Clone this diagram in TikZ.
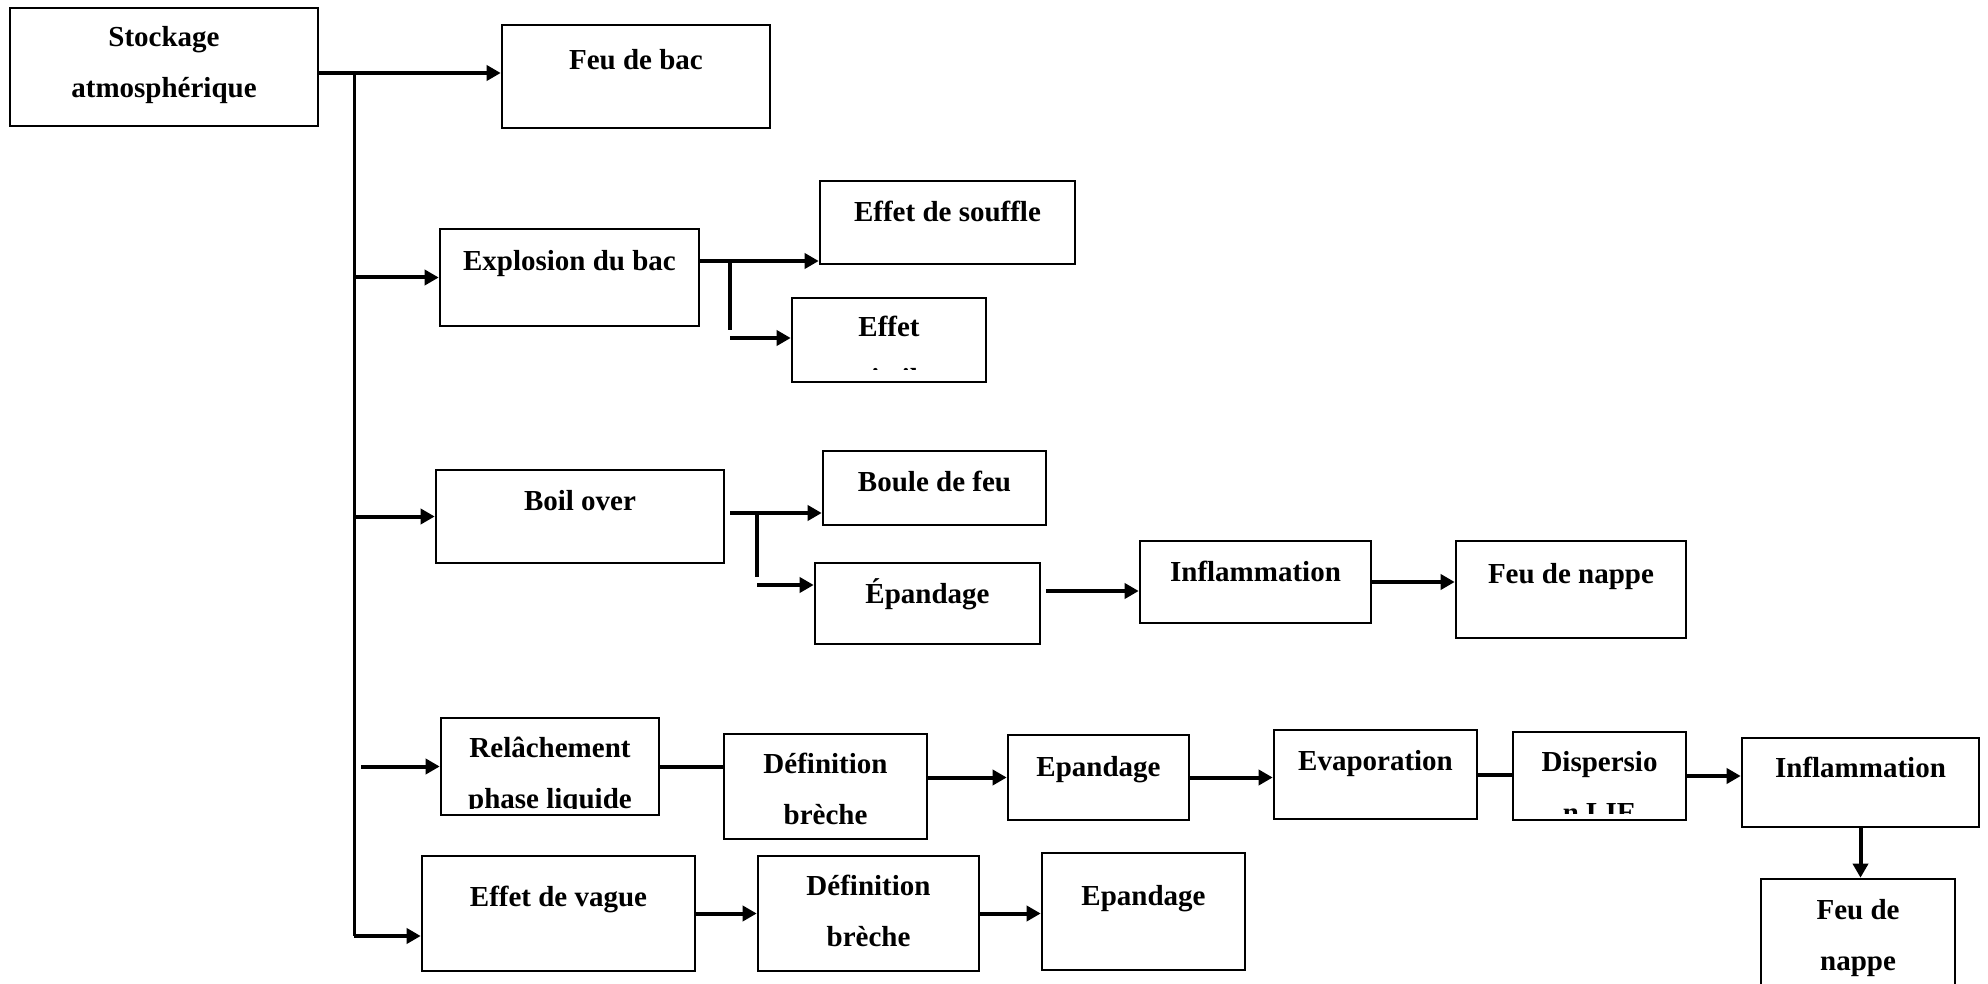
\documentclass[tikz,border=0pt]{standalone}
\usepackage{fontspec}
\setmainfont{Liberation Serif}
\usetikzlibrary{arrows.meta,fit}
\def\clipin{7}
\newcommand\mybox[8]{%
  \node[boxst, fit={(#2,#3) (#4,#5)}] (#1) {};
  \begin{scope}
    \clip (#2,#3) rectangle (#4,#5-\clipin);
    \node[txt, anchor=base] (#1-a) at ({(#2+#4)/2},#6) {#7};
    \node[txt, anchor=base] (#1-b) at ({(#2+#4)/2},#6+51) {#8};
  \end{scope}
}
\begin{document}
\begin{tikzpicture}[x=0.5pt,y=-0.5pt,
  boxst/.style={draw, line width=1.3pt, inner sep=0pt},
  txt/.style={font=\fontsize{14.5}{17}\selectfont\bfseries, inner sep=0pt},
  conn/.style={line width=2pt},
  trunkst/.style={line width=1.5pt},
  arr/.style={conn, -{Triangle[length=7pt,width=7.5pt]}}]
\path[use as bounding box, fill=white] (0,0) rectangle (1988,984);

\mybox{A}{10}{8}{318}{126}{47}{Stockage}{atmosphérique}
\mybox{B}{502}{25}{770}{128}{70}{Feu de bac}{}
\mybox{C}{440}{229}{699}{326}{271}{Explosion du bac}{}
\mybox{D}{820}{181}{1075}{264}{222}{Effet de souffle}{}
\def\clipin{12}
\mybox{E}{792}{298}{986}{382}{337}{Effet}{missile}
\def\clipin{7}
\mybox{F}{436}{470}{724}{563}{510}{Boil over}{}
\mybox{G}{823}{451}{1046}{525}{491}{Boule de feu}{}
\mybox{H}{815}{563}{1040}{644}{603}{Épandage}{}
\mybox{I}{1140}{541}{1371}{623}{581}{Inflammation}{}
\mybox{J}{1456}{541}{1686}{638}{583}{Feu de nappe}{}
\mybox{K}{441}{718}{659}{815}{757}{Relâchement}{phase liquide}
\mybox{L}{724}{734}{927}{839}{773}{Définition}{brèche}
\mybox{M}{1008}{735}{1189}{820}{776}{Epandage}{}
\mybox{N}{1274}{730}{1477}{819}{770}{Evaporation}{}
\mybox{O}{1513}{732}{1686}{820}{771}{Dispersio}{n LIE}
\mybox{P}{1742}{738}{1979}{827}{777}{Inflammation}{}
\mybox{Q}{1761}{879}{1955}{1020}{919}{Feu de}{nappe}
\mybox{R}{422}{856}{695}{971}{906}{Effet de vague}{}
\mybox{S}{758}{856}{979}{971}{895}{Définition}{brèche}
\mybox{T}{1042}{853}{1245}{970}{905}{Epandage}{}

% trunk
\coordinate (t0) at (354,73);
\coordinate (t1) at (361,73);
\coordinate (tb) at (354,936);
\draw[arr] (A.east |- t0) -- (B.west |- t0);
\draw[trunkst] (t0) -- (tb);
\draw[arr] (tb) -- (R.west |- tb);
\draw[arr] (t0 |- C.west) -- (C.west);
\draw[arr] (t0 |- F.west) -- (F.west);
\draw[arr] (t1 |- K.west) -- (K.west);

% explosion
\coordinate (c1) at (730,261);
\coordinate (c2) at (730,330);
\coordinate (c3) at (730,338);
\draw[arr] (C.east |- c1) -- (D.west |- c1);
\draw[conn] (c1) -- (c2);
\draw[arr] (c3) -- (E.west |- c3);

% boil over
\coordinate (f1) at (730,513);
\coordinate (f2) at (757,513);
\coordinate (f3) at (757,577);
\coordinate (f4) at (757,585);
\coordinate (h1) at (1046,591);
\draw[arr] (f1) -- (G.west |- f1);
\draw[conn] (f2) -- (f3);
\draw[arr] (f4) -- (H.west |- f4);
\draw[arr] (h1) -- (I.west |- h1);
\draw[arr] (I.east) -- (I.east -| J.west);

% liquid release chain
\draw[conn] (K.east) -- (K.east -| L.west);
\draw[arr] (M.west -| L.east) -- (M.west);
\draw[arr] (M.east) -- (M.east -| N.west);
\draw[conn] (N.east) -- (N.east -| O.west);
\draw[arr] (O.east) -- (O.east -| P.west);
\draw[arr] (P.south) -- (P.south |- Q.north);

% wave chain
\draw[arr] (R.east) -- (R.east -| S.west);
\draw[arr] (S.east) -- (S.east -| T.west);
\end{tikzpicture}
\end{document}
